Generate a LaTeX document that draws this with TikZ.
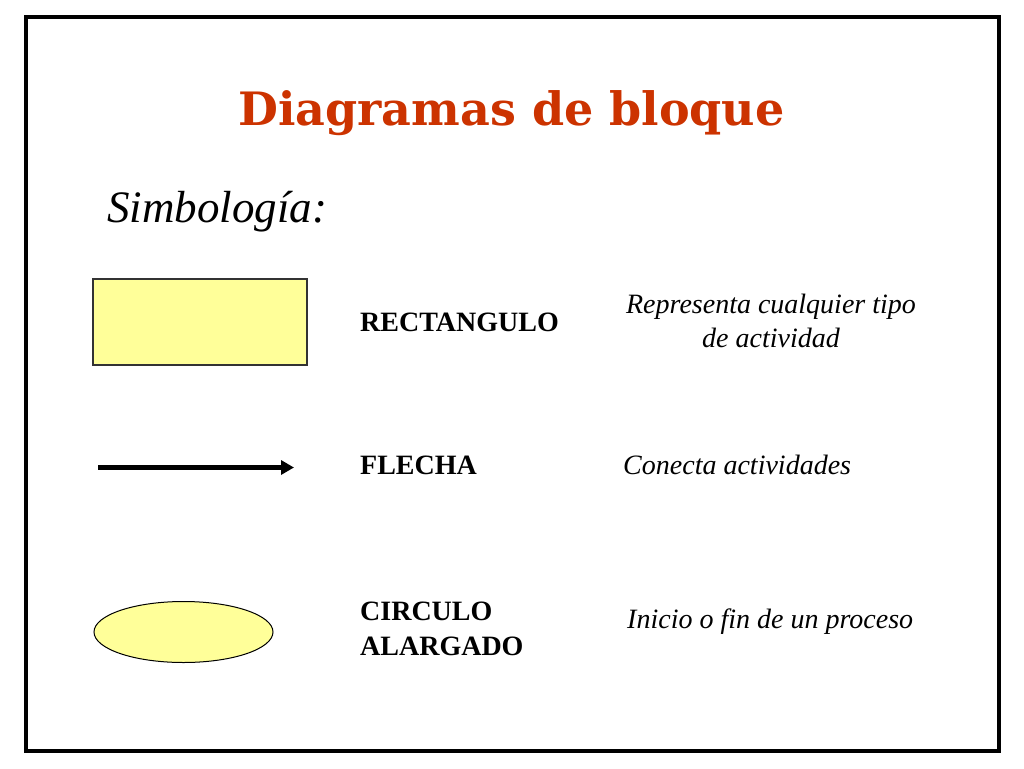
\documentclass[tikz,border=0pt]{standalone}
\usepackage{fontspec}
\setmainfont{Liberation Serif}
\newfontfamily\titlefont{DejaVu Serif}
\usetikzlibrary{arrows.meta,shapes.geometric}
\definecolor{titlered}{HTML}{CC3300}
\definecolor{symfill}{HTML}{FFFF99}
\definecolor{rectline}{HTML}{333333}
\tikzset{
  frame/.style={draw=black, line width=4pt},
  labeltext/.style={font=\fontsize{28}{35}\selectfont\bfseries, inner sep=0pt, anchor=base west},
  desctext/.style={font=\fontsize{28}{34}\selectfont\itshape, inner sep=0pt},
  symrect/.style={draw=rectline, fill=symfill, line width=1.2pt, minimum width=214pt, minimum height=86pt, inner sep=0pt},
  symellipse/.style={ellipse, draw=black, fill=symfill, line width=1pt, minimum width=179pt, minimum height=61pt, inner sep=0pt},
  flecha/.style={line width=4.5pt, -{Triangle[length=13pt,width=14pt]}}
}
\begin{document}
\begin{tikzpicture}[x=1pt,y=-1pt]
\useasboundingbox (0,0) rectangle (1024,768);
\fill[white] (0,0) rectangle (1024,768);
\draw[frame] (26,17.5) rectangle (998.5,750.5);
\node[font=\titlefont\fontsize{46}{52}\selectfont\bfseries, text=titlered, inner sep=0pt, anchor=base] (title) at (511.5,125) {Diagramas de bloque};
\node[font=\fontsize{45}{50}\selectfont\itshape, inner sep=0pt, anchor=base west] (simb) at (107,222) {Simbología:};
% rectangle row
\node[symrect] (rect) at (200,322) {};
\node[labeltext] (rectlabel) at (360,331) {RECTANGULO};
\node[desctext, anchor=base, align=center] (rectdesc) at (771,347) {Representa cualquier tipo\\de actividad};
% arrow row
\coordinate (arrowstart) at (98,467.5);
\coordinate (arrowend) at (294,467.5);
\draw[flecha] (arrowstart) -- (arrowend);
\node[labeltext] (flechalabel) at (360,474) {FLECHA};
\node[desctext, anchor=base west] (flechadesc) at (623,474) {Conecta actividades};
% ellipse row
\node[symellipse] (ell) at (183.5,632) {};
\node[labeltext, align=left] (elllabel) at (360,655) {CIRCULO\\ALARGADO};
\node[desctext, anchor=base west] (elldesc) at (627,628) {Inicio o fin de un proceso};
\end{tikzpicture}
\end{document}
